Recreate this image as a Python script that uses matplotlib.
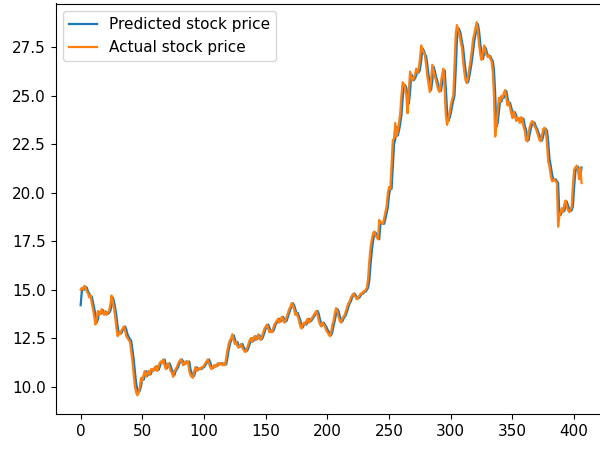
import matplotlib
matplotlib.use("Agg")
import matplotlib.pyplot as plt

actual = [
    15.0, 15.1, 15.0, 15.2, 15.1, 14.9, 14.8, 14.6, 14.7, 14.3,
    14.0, 13.6, 13.2, 13.5, 13.9, 13.7, 13.8, 14.0, 13.8, 13.7,
    13.9, 13.7, 13.8, 13.9, 14.2, 14.7, 14.4, 14.05, 13.6, 13.0,
    12.6, 12.8, 12.7, 12.9, 13.0, 13.1, 12.9, 12.6, 12.5, 12.4,
    12.3, 11.8, 11.3, 10.6, 10.0, 9.7, 9.55, 9.7, 10.0, 10.45,
    10.3, 10.6, 10.8, 10.5, 10.7, 10.8, 10.6, 10.9, 10.9, 10.8,
    11.0, 11.05, 10.8, 11.0, 11.2, 11.3, 11.2, 11.4, 11.1, 10.9,
    11.1, 11.2, 11.0, 10.8, 10.7, 10.5, 10.8, 10.9, 11.0, 11.2,
    11.3, 11.4, 11.3, 11.1, 11.2, 11.3, 11.2, 11.3, 10.8, 10.6,
    10.5, 10.45, 10.8, 11.0, 10.8, 10.9, 10.95, 10.9, 11.0, 11.0,
    11.1, 11.2, 11.3, 11.4, 11.2, 11.0, 10.9, 11.0, 11.1, 11.0,
    11.1, 11.2, 11.1, 11.2, 11.2, 11.1, 11.2, 11.1, 11.5, 11.9,
    12.2, 12.4, 12.5, 12.7, 12.4, 12.2, 12.3, 12.1, 12.0, 12.1,
    12.2, 12.0, 11.9, 11.8, 11.8, 12.0, 12.2, 12.4, 12.5, 12.3,
    12.5, 12.6, 12.4, 12.5, 12.7, 12.5, 12.4, 12.6, 12.8, 13.0,
    13.1, 13.2, 13.0, 12.8, 12.9, 12.8, 13.0, 13.2, 13.3, 13.4,
    13.5, 13.3, 13.4, 13.6, 13.5, 13.3, 13.4, 13.6, 13.8, 14.0,
    14.1, 14.3, 14.2, 14.0, 13.7, 13.8, 13.6, 13.4, 13.1, 13.0,
    13.2, 13.3, 13.2, 13.4, 13.5, 13.3, 13.4, 13.5, 13.6, 13.7,
    13.8, 13.9, 13.7, 13.4, 13.2, 13.1, 13.3, 13.2, 13.1, 12.9,
    12.8, 12.7, 12.6, 12.8, 13.2, 13.4, 13.8, 14.05, 13.9, 13.6,
    13.4, 13.3, 13.5, 13.6, 13.7, 13.9, 14.1, 14.3, 14.4, 14.6,
    14.7, 14.8, 14.7, 14.6, 14.5, 14.6, 14.7, 14.8, 14.8, 14.9,
    14.9, 15.0, 15.1, 15.6, 16.5, 17.2, 17.6, 17.9, 18.0, 17.8,
    17.7, 17.6, 18.6, 18.5, 18.4, 18.4, 18.7, 19.0, 19.3, 20.0,
    20.3, 20.2, 21.5, 22.7, 22.8, 23.6, 22.9, 23.2, 23.6, 24.1,
    25.0, 25.7, 25.6, 25.4, 25.0, 24.1, 25.3, 26.25, 26.0, 25.8,
    25.9, 26.1, 26.4, 26.2, 26.4, 26.9, 27.6, 27.4, 27.2, 27.1,
    26.6, 26.0, 25.6, 25.2, 25.8, 26.6, 26.3, 26.0, 25.8, 25.5,
    25.3, 25.2, 25.7, 26.1, 26.4, 25.4, 24.0, 23.5, 23.8, 24.1,
    24.5, 24.8, 25.0, 26.5, 28.2, 28.65, 28.4, 28.2, 27.8, 27.5,
    26.8, 26.2, 25.8, 25.65, 26.0, 26.4, 26.8, 27.3, 27.9, 28.2,
    28.5, 28.8, 28.3, 27.6, 27.1, 26.85, 27.2, 27.6, 27.3, 27.1,
    27.0, 27.1, 26.9, 26.8, 26.3, 25.0, 22.9, 23.5, 24.2, 24.9,
    24.7, 25.0, 24.9, 25.15, 25.3, 24.9, 24.5, 24.7, 24.4, 24.1,
    23.85, 24.2, 24.0, 23.7, 23.9, 23.8, 23.6, 23.9, 23.8, 23.4,
    23.2, 22.7, 22.65, 23.1, 23.4, 23.6, 23.7, 23.6, 23.4, 23.3,
    23.1, 22.9, 22.7, 22.65, 23.0, 23.3, 23.35, 23.2, 22.5, 21.6,
    21.35, 20.9, 20.6, 20.6, 20.7, 20.6, 20.5, 18.25, 18.8, 19.0,
    19.2, 19.0, 19.4, 19.6, 19.3, 19.1, 19.0, 19.1, 19.3, 20.4,
    21.2, 21.3, 21.4, 21.2, 20.7, 21.3, 20.5,
]

predicted = [
    14.2, 14.95, 15.05, 15.0, 15.15, 15.1, 14.9, 14.8, 14.65, 14.65,
    14.35, 14.05, 13.7, 13.3, 13.5, 13.85, 13.75, 13.8, 13.95, 13.8,
    13.75, 13.85, 13.75, 13.8, 13.9, 14.15, 14.6, 14.4, 14.05, 13.65,
    13.1, 12.7, 12.8, 12.75, 12.9, 13.0, 13.1, 12.95, 12.7, 12.55,
    12.45, 12.35, 11.9, 11.4, 10.75, 10.15, 9.85, 9.7, 9.8, 10.05,
    10.45, 10.35, 10.6, 10.8, 10.55, 10.7, 10.8, 10.65, 10.9, 10.9,
    10.85, 11.0, 11.05, 10.85, 11.0, 11.2, 11.3, 11.25, 11.4, 11.15,
    10.95, 11.1, 11.2, 11.05, 10.85, 10.75, 10.6, 10.8, 10.9, 11.0,
    11.2, 11.3, 11.4, 11.3, 11.15, 11.2, 11.3, 11.2, 11.3, 10.9,
    10.7, 10.6, 10.55, 10.8, 11.0, 10.85, 10.9, 10.95, 10.9, 11.0,
    11.0, 11.1, 11.2, 11.3, 11.4, 11.25, 11.05, 10.95, 11.0, 11.1,
    11.05, 11.1, 11.2, 11.15, 11.2, 11.2, 11.15, 11.2, 11.15, 11.5,
    11.9, 12.2, 12.4, 12.5, 12.65, 12.45, 12.25, 12.3, 12.15, 12.05,
    12.1, 12.2, 12.05, 11.95, 11.85, 11.85, 12.0, 12.2, 12.4, 12.5,
    12.35, 12.5, 12.6, 12.45, 12.5, 12.65, 12.5, 12.45, 12.6, 12.8,
    13.0, 13.1, 13.2, 13.05, 12.85, 12.9, 12.85, 13.0, 13.2, 13.3,
    13.4, 13.5, 13.35, 13.4, 13.6, 13.5, 13.35, 13.4, 13.6, 13.8,
    14.0, 14.1, 14.3, 14.2, 14.0, 13.75, 13.8, 13.6, 13.45, 13.15,
    13.05, 13.2, 13.3, 13.2, 13.4, 13.5, 13.35, 13.4, 13.5, 13.6,
    13.7, 13.8, 13.9, 13.75, 13.45, 13.25, 13.15, 13.3, 13.2, 13.1,
    12.95, 12.85, 12.75, 12.65, 12.8, 13.15, 13.4, 13.75, 14.0, 13.9,
    13.65, 13.45, 13.35, 13.5, 13.6, 13.7, 13.9, 14.1, 14.3, 14.4,
    14.6, 14.7, 14.8, 14.7, 14.6, 14.55, 14.6, 14.7, 14.8, 14.8,
    14.9, 14.9, 15.0, 15.1, 15.5, 16.3, 17.0, 17.5, 17.85, 17.95,
    17.8, 17.7, 17.6, 18.4, 18.45, 18.4, 18.4, 18.65, 18.95, 19.25,
    19.9, 20.25, 20.2, 21.3, 22.5, 22.75, 23.4, 22.95, 23.2, 23.55,
    24.0, 24.85, 25.55, 25.55, 25.4, 25.0, 24.6, 25.2, 26.1, 26.0,
    25.8, 25.9, 26.05, 26.35, 26.2, 26.35, 26.8, 27.45, 27.35, 27.15,
    27.05, 26.6, 26.05, 25.65, 25.3, 25.75, 26.5, 26.3, 26.0, 25.8,
    25.5, 25.3, 25.25, 25.65, 26.05, 26.3, 25.4, 24.2, 23.7, 23.85,
    24.1, 24.45, 24.75, 25.0, 26.3, 27.9, 28.5, 28.4, 28.2, 27.8,
    27.5, 26.85, 26.3, 25.85, 25.7, 26.0, 26.35, 26.75, 27.25, 27.8,
    28.15, 28.45, 28.7, 28.3, 27.65, 27.15, 26.9, 27.15, 27.5, 27.3,
    27.1, 27.0, 27.05, 26.9, 26.8, 26.35, 25.1, 23.4, 23.6, 24.15,
    24.8, 24.7, 24.95, 24.9, 25.1, 25.25, 24.9, 24.55, 24.65, 24.4,
    24.15, 23.9, 24.15, 24.0, 23.75, 23.85, 23.8, 23.65, 23.85, 23.8,
    23.45, 23.25, 22.8, 22.7, 23.05, 23.35, 23.55, 23.65, 23.6, 23.4,
    23.3, 23.1, 22.95, 22.75, 22.7, 22.95, 23.25, 23.3, 23.2, 22.6,
    21.75, 21.4, 21.0, 20.7, 20.65, 20.7, 20.6, 20.5, 18.9, 18.85,
    19.0, 19.2, 19.05, 19.35, 19.55, 19.35, 19.15, 19.05, 19.1, 19.3,
    20.3, 21.1, 21.3, 21.35, 21.2, 20.8, 21.3,
]

series_labels = ["Predicted stock price", "Actual stock price"]

fig = plt.figure(figsize=(6, 4.5), dpi=100)
ax = fig.add_axes([55.6 / 600, 36 / 450, 551 / 600, 410.5 / 450])
ax.plot(range(len(predicted)), predicted, color="#1f77b4", lw=1.6, label=series_labels[0])
ax.plot(range(len(actual)), actual, color="#ff7f0e", lw=1.6, label=series_labels[1])
ax.set_xticks([0, 50, 100, 150, 200, 250, 300, 350, 400])
ax.set_yticks([10.0, 12.5, 15.0, 17.5, 20.0, 22.5, 25.0, 27.5])
ax.tick_params(labelsize=11)
ax.legend(loc="upper left", fontsize=11, handlelength=1.8)
fig.savefig("out.png", dpi=100)
